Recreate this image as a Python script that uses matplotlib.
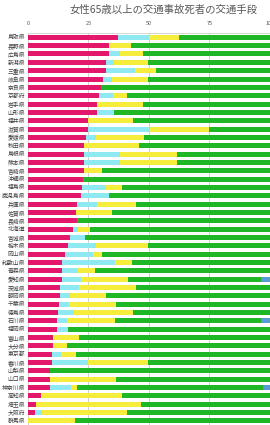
import matplotlib
matplotlib.use("Agg")
import matplotlib.pyplot as plt
import numpy as np

plt.rcParams['font.family'] = ['Noto Sans CJK JP', 'DejaVu Sans']

# 都道府県（上から順）
prefs = ["鳥取県", "長野県", "広島県", "新潟県", "三重県", "岐阜県", "奈良県", "京都府",
         "岩手県", "山形県", "福井県", "滋賀県", "愛媛県", "秋田県", "島根県", "熊本県",
         "宮崎県", "沖縄県", "福島県", "鹿児島県", "兵庫県", "佐賀県", "長崎県", "北海道",
         "宮城県", "栃木県", "岡山県", "和歌山県", "青森県", "愛知県", "茨城県", "静岡県",
         "千葉県", "徳島県", "石川県", "福岡県", "富山県", "大分県", "東京都", "香川県",
         "山梨県", "山口県", "神奈川県", "高知県", "埼玉県", "大阪府", "群馬県"]

# 割合（%）
pink = [37.4, 33.3, 33.3, 32.2, 32.2, 31.2, 30.0, 29.5, 28.6, 28.4, 24.9, 24.9,
        23.9, 23.0, 23.0, 23.0, 23.0, 22.8, 22.5, 22.1, 20.4, 20.0, 20.2, 18.5,
        17.5, 16.4, 15.4, 14.2, 13.9, 13.9, 13.4, 13.1, 12.8, 12.4, 12.0, 12.0,
        10.3, 10.3, 9.9, 9.9, 9.0, 9.0, 9.0, 5.5, 3.2, 2.9, 0.0]
cyan = [12.6, 0.0, 4.6, 3.3, 11.9, 3.7, 0.0, 5.7, 0.0, 7.2, 0.0, 25.5,
        4.0, 0.0, 15.2, 15.2, 0.0, 0.0, 9.6, 11.3, 8.2, 0.0, 0.0, 2.1,
        6.1, 11.5, 11.4, 21.7, 6.9, 8.2, 7.6, 4.2, 4.0, 6.5, 4.1, 4.5,
        0.0, 0.0, 3.6, 14.9, 0.0, 0.0, 8.7, 0.0, 0.0, 3.0, 0.0]
yellow = [12.3, 9.3, 9.5, 14.2, 8.8, 14.8, 0.0, 5.9, 18.8, 0.0, 18.6, 24.5,
          20.0, 23.1, 23.4, 23.4, 7.5, 0.0, 6.7, 0.0, 16.2, 14.9, 0.0, 5.2,
          0.0, 21.9, 3.7, 7.1, 6.8, 19.3, 23.6, 15.1, 19.5, 24.5, 20.0, 0.0,
          10.7, 5.6, 6.5, 24.9, 0.0, 27.3, 2.7, 33.4, 43.7, 35.2, 19.3]
green = [37.7, 57.4, 52.6, 50.3, 47.1, 50.3, 70.0, 58.9, 52.6, 64.4, 56.5, 25.1,
         52.1, 53.9, 38.4, 38.4, 69.5, 77.2, 61.2, 66.6, 55.2, 65.1, 79.8, 74.2,
         76.4, 50.2, 69.5, 57.0, 72.4, 55.1, 55.4, 67.6, 63.7, 56.6, 60.2, 83.5,
         79.0, 84.1, 80.0, 50.3, 91.0, 63.7, 76.8, 61.1, 53.1, 58.9, 80.7]
blue = [0.0] * 29 + [3.5] + [0.0] * 4 + [3.7] + [0.0] * 7 + [2.8] + [0.0] * 4

series = [pink, cyan, yellow, green, blue]
colors = ["#e3186c", "#8ee9f2", "#f6ec3b", "#1fb726", "#5b9bd5"]

fig = plt.figure(figsize=(2.7, 4.25), dpi=100)
ax = fig.add_axes([0.104, 0.0, 0.895, 0.922])

y = np.arange(len(prefs))
left = np.zeros(len(prefs))
for vals, col in zip(series, colors):
    ax.barh(y, vals, left=left, height=0.6, color=col, zorder=2)
    left += np.array(vals)

ax.set_ylim(len(prefs) - 0.5, -0.5)
ax.set_xlim(0, 100)
ax.set_xticks([0, 25, 50, 75, 100])
ax.xaxis.tick_top()
ax.tick_params(axis='x', length=0, labelsize=4, labelcolor='#595959', pad=5)
ax.set_yticks(y)
ax.set_yticklabels(prefs)
ax.tick_params(axis='y', length=0, labelsize=4.2, labelcolor='#404040', pad=2)
ax.grid(axis='x', color='#c8c8c8', linewidth=0.6, zorder=0)
for s in ['right', 'bottom', 'left']:
    ax.spines[s].set_visible(False)
ax.spines['top'].set_color('#d0d0d0')
ax.spines['top'].set_linewidth(0.6)

fig.text(0.605, 0.977, "女性65歳以上の交通事故死者の交通手段", ha='center', va='center',
         fontsize=7.5, color='#595959')

fig.savefig("out.png", dpi=100)
